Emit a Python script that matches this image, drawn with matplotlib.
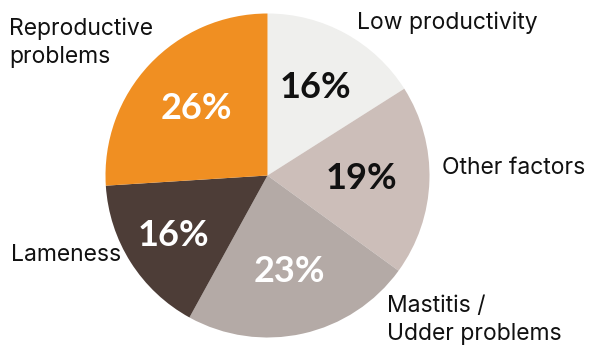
import matplotlib
matplotlib.use("Agg")
import matplotlib.pyplot as plt
import numpy as np

categories = ["Low productivity", "Other factors", "Mastitis /\nUdder problems", "Lameness", "Reproductive\nproblems"]
values = [16, 19, 23, 16, 26]
colors = ["#efefed", "#ccbeb9", "#b4aaa6", "#4d3d37", "#f08f22"]
pct_colors = ["#111111", "#111111", "#ffffff", "#ffffff", "#ffffff"]
pct_dist = [0.62, 0.58, 0.61, 0.69, 0.60]

W, H = 592, 348
CX, CY, R = 267.5, 175.5, 162.0

plt.rcParams['font.family'] = ['Lato', 'DejaVu Sans']
fig = plt.figure(figsize=(W / 100, H / 100), dpi=100)
ax = fig.add_axes([0, 0, 1, 1])
ax.axis('off')

wedges, _ = ax.pie(values, colors=colors, startangle=90, counterclock=False,
                   radius=1.0, wedgeprops=dict(linewidth=0))
ax.set_xlim(-CX / R, (W - CX) / R)
ax.set_ylim(-(H - CY) / R, CY / R)

for w, v, c, d in zip(wedges, values, pct_colors, pct_dist):
    ang = np.deg2rad((w.theta1 + w.theta2) / 2)
    ax.text(d * np.cos(ang), d * np.sin(ang), f"{v}%", ha='center', va='center',
            fontsize=26, fontweight='bold', color=c)

def ftext(px, py, s, ha):
    fig.text(px / W, 1 - py / H, s, ha=ha, va='center', fontsize=16.5, color='#111111',
             linespacing=1.35, family=['Inter', 'DejaVu Sans'])

ftext(357, 23, categories[0], 'left')
ftext(442, 168, categories[1], 'left')
ftext(387, 320, categories[2], 'left')
ftext(121, 255, categories[3], 'right')
ftext(9, 43, categories[4], 'left')

fig.savefig("out.png", dpi=100)
